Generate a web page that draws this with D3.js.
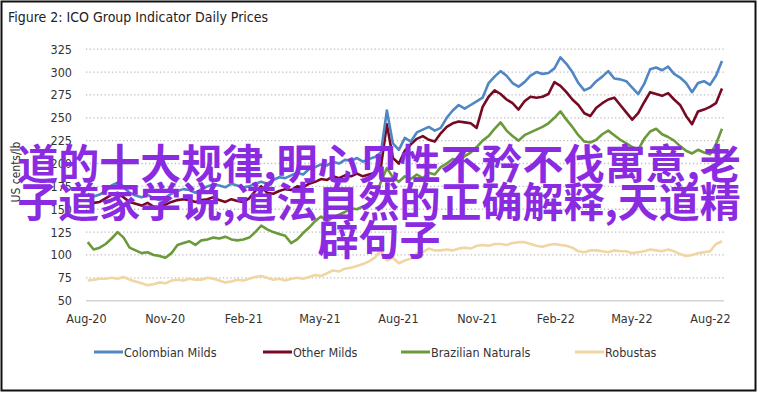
<html>
<head>
<script src="https://d3js.org/d3.v7.min.js"></script>
<style>
  body { margin: 0; background: #fff; }
  #wrap { position: relative; width: 758px; height: 393px; }
  #overlay {
    position: absolute; left: 0; top: 142px; width: 758px;
    text-align: center; white-space: nowrap;
    font-family: "Noto Sans CJK SC", sans-serif; font-weight: 700;
    font-size: 41px; line-height: 38px; color: #8a2be2;
  }
</style>
</head>

<body>
<div id="wrap"></div>

<script>

// weekly readings, first Monday Aug 3 2020
var start = new Date(2020, 7, 3);

var colombian = [167,164,166,170,176,179,174,168,165,163,166,162,160,163,167,170,172,171,168,172,
  175,177,176,174,178,176,174,175,178,180,178,182,185,184,187,190,188,194,196,199,
  198,202,200,204,203,206,202,205,207,212,258,222,215,228,224,234,237,240,236,239,
  250,258,264,260,264,268,272,288,295,301,296,288,284,289,296,300,298,299,304,316,
  309,300,288,280,283,290,295,301,293,292,290,283,276,287,303,305,302,306,298,294,
  288,278,288,290,286,296,312];

var otherMilds = [160,157,158,162,166,168,163,158,156,154,157,153,152,155,158,160,161,160,158,160,
  161,163,160,158,161,159,158,162,170,175,168,167,170,172,171,175,174,178,180,183,
  182,186,184,187,186,189,186,188,190,196,243,206,200,214,221,227,230,226,224,233,
  240,244,246,245,244,239,262,273,280,276,270,266,259,268,273,272,273,276,289,285,
  278,270,264,255,252,261,266,270,272,264,256,248,255,267,278,276,274,277,270,264,
  252,243,257,259,262,266,282];

var brazilian = [114,106,108,112,118,125,119,108,105,102,103,100,99,97,102,111,113,115,111,116,
  117,119,118,120,117,116,117,119,125,132,128,125,123,121,113,117,124,130,137,142,
  137,141,144,147,151,150,153,155,162,180,195,185,180,186,183,188,184,190,188,196,
  200,205,203,208,212,218,225,230,238,245,236,230,225,231,234,237,240,244,250,257,
  248,240,231,224,223,226,232,236,231,226,222,218,215,227,235,238,232,229,225,219,
  214,211,215,212,210,221,238];

var robustas = [72,73,74,74,75,74,76,73,71,69,67,68,70,69,72,73,72,74,73,73,
  75,74,72,70,71,73,72,74,76,77,75,73,74,72,74,75,74,76,78,77,
  80,83,82,85,86,88,90,93,97,105,94,97,91,94,96,102,103,107,105,105,
  106,105,107,108,107,110,111,110,112,112,111,113,114,114,112,110,109,111,112,111,
  110,108,104,103,105,105,104,103,105,104,104,102,103,104,106,105,104,106,104,101,
  99,100,102,103,104,112,115];

var seriesNames = ["Colombian Milds", "Other Milds", "Brazilian Naturals", "Robustas"];
var seriesColors = ["#4f86c3", "#760a22", "#6b9a3a", "#efd6a2"];
var yTicks = [50, 75, 100, 125, 150, 175, 200, 225, 250, 275, 300, 325];
var xTickLabels = ["Aug-20", "Nov-20", "Feb-21", "May-21", "Aug-21", "Nov-21", "Feb-22", "May-22", "Aug-22"];

var parseMonth = d3.timeParse("%b-%y");
var dates = d3.timeMonday.range(start, d3.timeDay.offset(start, 7 * colombian.length));
var allSeries = [colombian, otherMilds, brazilian, robustas];

var width = 758, height = 393;
var chartFont = '"Liberation Sans Narrow", "DejaVu Sans Condensed", sans-serif';

var svg = d3.select("#wrap").append("svg")
            .attr("width", width)
            .attr("height", height)
            .style("position", "absolute")
            .style("left", 0).style("top", 0);

// frame
svg.append("rect")
   .attr("x", 1.5).attr("y", 1.5)
   .attr("width", width - 4).attr("height", height - 4)
   .attr("fill", "#fff")
   .attr("stroke", "#111")
   .attr("stroke-width", 2);

svg.append("text")
   .attr("x", 8).attr("y", 22)
   .attr("font-family", chartFont)
   .attr("font-size", 14)
   .attr("fill", "#222")
   .text("Figure 2: ICO Group Indicator Daily Prices");

var x = d3.scaleTime()
          .domain([new Date(2020, 7, 1), new Date(2022, 7, 1)])
          .range([86, 710]);
var y = d3.scaleLinear()
          .domain([50, 325])
          .range([300.7, 49.2]);

// gridlines
svg.selectAll(".grid")
   .data(yTicks)
  .enter().append("line")
   .attr("x1", 86).attr("x2", 724)
   .attr("y1", function(d) { return y(d); })
   .attr("y2", function(d) { return y(d); })
   .attr("stroke", function(d) { return d == 50 ? "#d4d4d4" : "#bdbdbd"; })
   .attr("stroke-width", function(d) { return d == 50 ? 1.5 : 1.3; })
   .attr("stroke-dasharray", function(d) { return d == 50 ? null : "1.3,2.4"; });

var yAxis = svg.append("g")
               .attr("transform", "translate(72,0)")
               .call(d3.axisLeft(y).tickValues(yTicks).tickSize(0).tickPadding(0));
yAxis.select(".domain").remove();
yAxis.selectAll("text")
     .attr("font-family", chartFont)
     .attr("font-size", 12.5)
     .attr("fill", "#333");

var xAxis = svg.append("g")
               .attr("transform", "translate(0,314)")
               .call(d3.axisBottom(x)
                       .tickValues(xTickLabels.map(parseMonth))
                       .tickFormat(d3.timeFormat("%b-%y"))
                       .tickSize(0).tickPadding(0));
xAxis.select(".domain").remove();
xAxis.selectAll("text")
     .attr("font-family", chartFont)
     .attr("font-size", 12.5)
     .attr("fill", "#333");

svg.append("text")
   .attr("transform", "translate(20,172) rotate(-90)")
   .attr("text-anchor", "middle")
   .attr("font-family", chartFont)
   .attr("font-size", 12)
   .attr("fill", "#333")
   .text("US cents/lb");

var line = d3.line()
             .x(function(d, i) { return x(dates[i]); })
             .y(function(d) { return y(d); });

// draw robustas first so darker lines sit on top
[3, 2, 1, 0].forEach(function(k) {
  svg.append("path")
     .datum(allSeries[k])
     .attr("fill", "none")
     .attr("stroke", seriesColors[k])
     .attr("stroke-width", 2.6)
     .attr("stroke-linejoin", "round")
     .attr("d", line);
});

// legend
var legendX = [94, 263, 401, 575];
var legend = svg.selectAll(".legend")
                .data(seriesNames)
               .enter().append("g")
                .attr("transform", function(d, i) { return "translate(" + legendX[i] + ",352)"; });
legend.append("line")
      .attr("x1", 0).attr("x2", 29)
      .attr("stroke", function(d, i) { return seriesColors[i]; })
      .attr("stroke-width", 3);
legend.append("text")
      .attr("x", 30).attr("y", 4.5)
      .attr("font-family", chartFont)
      .attr("font-size", 12.5)
      .attr("fill", "#333")
      .text(function(d) { return d; });

d3.select("#wrap").append("div")
  .attr("id", "overlay")
  .html("道的十大规律,明心见性不矜不伐寓意,老<br>子道家学说,道法自然的正确解释,天道精<br>辟句子");

</script>

</body>
</html>
